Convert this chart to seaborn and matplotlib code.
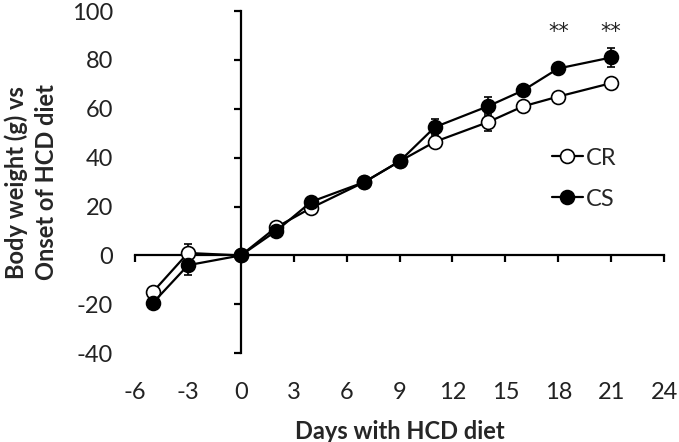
import numpy as np
import pandas as pd
import matplotlib
matplotlib.use("Agg")
import matplotlib.pyplot as plt
import seaborn as sns

# values
days = [-5, -3, 0, 2, 4, 7, 9, 11, 14, 16, 18, 21]
cr = [-15, 1, 0, 11.5, 19.5, 30, 38.5, 46.5, 54.5, 61, 65, 70.5]
cs = [-19.5, -4, 0, 10, 22, 30, 38.5, 52.5, 61, 67.5, 76.5, 81]
cr_err = [1.5, 3.5, 0, 1.5, 1.5, 1.2, 1.5, 1.5, 3.5, 1.5, 1.5, 1.5]
cs_err = [1.5, 4, 0, 1.5, 1.5, 1.2, 1.5, 3.3, 4, 2, 2, 3.7]
signif_days = [18, 21]
signif_marks = ["**", "**"]
x_ticks = list(range(-6, 25, 3))
y_ticks = list(range(-40, 101, 20))

df = pd.DataFrame({"day": days, "CR": cr, "CS": cs})

sns.set_style("white")
plt.rcParams["font.family"] = ["Lato", "DejaVu Sans"]
plt.rcParams["axes.unicode_minus"] = False

fig = plt.figure(figsize=(6.79, 4.42), dpi=100)
rect = [0.199, 0.201, 0.779, 0.774]
ax = fig.add_axes(rect)

# error bars behind the markers
ax.errorbar(days, cr, yerr=cr_err, fmt="none", ecolor="black", elinewidth=1.2,
            capsize=3, capthick=1.2, zorder=1)
ax.errorbar(days, cs, yerr=cs_err, fmt="none", ecolor="black", elinewidth=1.2,
            capsize=3, capthick=1.2, zorder=1)

sns.lineplot(data=df, x="day", y="CR", ax=ax, color="black", linewidth=1.6,
             marker="o", markersize=10, markerfacecolor="white",
             markeredgecolor="black", markeredgewidth=1.2, label="CR", zorder=3)
sns.lineplot(data=df, x="day", y="CS", ax=ax, color="black", linewidth=1.6,
             marker="o", markersize=10, markerfacecolor="black",
             markeredgecolor="black", markeredgewidth=1.2, label="CS", zorder=4)

# significance stars
for d, m in zip(signif_days, signif_marks):
    ax.text(d, 91.5, m, ha="center", va="center", fontsize=15,
            family="DejaVu Sans", color="#222222")

ax.set_xlim(-6, 24)
ax.set_ylim(-40, 100)
ax.set_xticks(x_ticks)
ax.set_yticks(y_ticks)
ax.set_xlabel("")
ax.set_ylabel("")

# axes crossing at the origin
for side in ["top", "right"]:
    ax.spines[side].set_visible(False)
ax.spines["left"].set_position(("data", 0))
ax.spines["bottom"].set_position(("data", 0))
for side in ["left", "bottom"]:
    ax.spines[side].set_color("black")
    ax.spines[side].set_linewidth(1.6)
ax.tick_params(axis="both", direction="out", length=5, width=1.6, color="black",
               labelleft=False, labelbottom=False, left=True, bottom=True)
ax.patch.set_visible(False)

leg = ax.legend(loc="center left", bbox_to_anchor=(0.77, 0.51), frameon=False,
                fontsize=17, handlelength=1.3, handletextpad=0.15,
                labelspacing=0.85, borderaxespad=0)

# overlay axes carrying tick labels at the low edge (Excel style)
ax2 = fig.add_axes(rect, sharex=ax, sharey=ax)
ax2.patch.set_visible(False)
for s in ax2.spines.values():
    s.set_visible(False)
ax2.tick_params(axis="both", length=0, labelsize=17, colors="#222222")
ax2.tick_params(axis="y", pad=16)
ax2.tick_params(axis="x", pad=21)
ax2.set_xlabel("Days with HCD diet", fontsize=17, fontweight="bold", labelpad=12)
ax2.set_ylabel("Body weight (g) vs\nOnset of HCD diet", fontsize=17,
               fontweight="bold", labelpad=10, linespacing=1.35)

fig.savefig("out.png", dpi=100)
